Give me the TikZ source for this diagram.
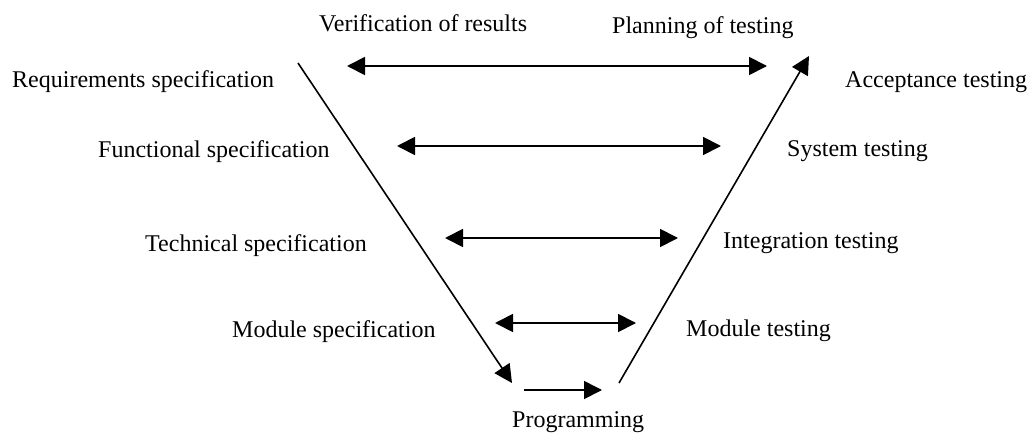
\documentclass[tikz,border=0pt]{standalone}
\usepackage{fontspec}
\setmainfont{Liberation Serif}
\usetikzlibrary{arrows.meta}
\tikzset{
  lbl/.style={anchor=base west, inner sep=0pt, font=\fontsize{24}{28}\selectfont},
  flow/.style={line width=1.6pt, -{Triangle[length=18pt,width=18pt]}},
  pair/.style={line width=1.8pt, {Triangle[length=18pt,width=18pt]}-{Triangle[length=18pt,width=18pt]}}
}
\begin{document}
\begin{tikzpicture}[x=1pt,y=-1pt]
\useasboundingbox (0,0) rectangle (1032,441);

% labels, left column
\node[lbl] (req)  at (12,88)   {Requirements specification};
\node[lbl] (func) at (98,157)  {Functional specification};
\node[lbl] (tech) at (145,251) {Technical specification};
\node[lbl] (mspec) at (232,337) {Module specification};
% labels, top
\node[lbl] (verif) at (319,32) {Verification of results};
\node[lbl] (plan)  at (612,34) {Planning of testing};
% labels, right column
\node[lbl] (acc)  at (845,88)  {Acceptance testing};
\node[lbl] (sys)  at (787,156) {System testing};
\node[lbl] (integ) at (723,248) {Integration testing};
\node[lbl] (mtest) at (686,336) {Module testing};
% label, bottom
\node[lbl] (prog) at (512,427) {Programming};

% end points of the V
\coordinate (vtl) at (298,63);
\coordinate (vbl) at (512,383);
\coordinate (vbr) at (619,383);
\coordinate (vtr) at (809,56);
\coordinate (p1) at (524,390);
\coordinate (p2) at (602,390);

% end points of the level arrows
\coordinate (a1l) at (347,66);  \coordinate (a1r) at (767,66);
\coordinate (a2l) at (397,146); \coordinate (a2r) at (721,146);
\coordinate (a3l) at (445,238); \coordinate (a3r) at (678,238);
\coordinate (a4l) at (495,323); \coordinate (a4r) at (636,323);

% the V
\draw[flow] (vtl) -- (vbl);
\draw[flow] (p1) -- (p2);
\draw[flow] (vbr) -- (vtr);

% verification / planning between the levels
\draw[pair] (a1l) -- (a1r);
\draw[pair] (a2l) -- (a2r);
\draw[pair] (a3l) -- (a3r);
\draw[pair] (a4l) -- (a4r);
\end{tikzpicture}
\end{document}
